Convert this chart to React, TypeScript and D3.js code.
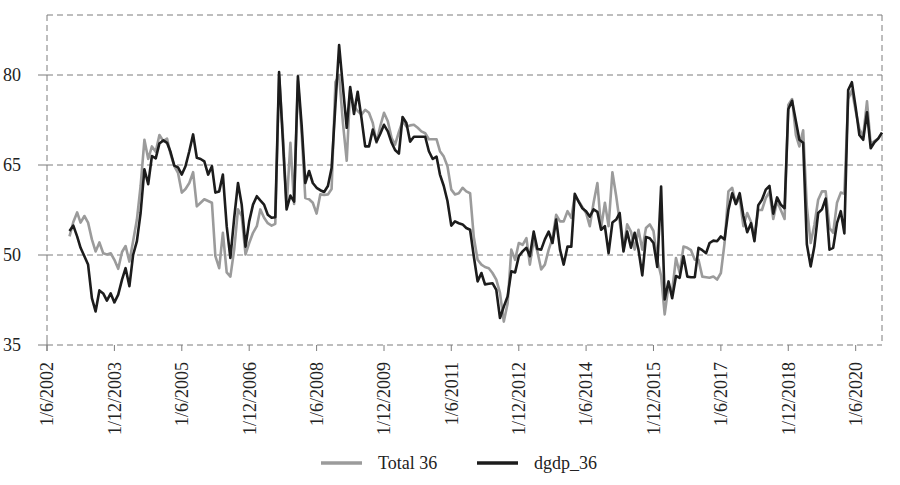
import * as d3 from "d3";

// monthly series, first point = December 2002
const firstMonth = "1/12/2002";

const dgdp36 = [
  54.0, 54.9, 53.1, 51.2, 49.8, 48.4, 42.8, 40.6, 44.1, 43.6,
  42.4, 43.6, 42.1, 43.4, 45.9, 47.8, 44.8, 50.0, 52.3, 57.0,
  64.3, 61.8, 66.5, 66.1, 68.6, 69.1, 68.7, 67.2, 64.9, 64.6,
  63.4, 64.8, 67.3, 70.1, 66.2, 66.0, 65.6, 63.4, 64.8, 60.4,
  60.6, 63.4, 54.8, 49.5, 56.2, 62.0, 58.4, 51.4, 55.6, 58.4,
  59.8, 59.1, 58.4, 56.7, 56.2, 56.3, 80.5, 69.0, 57.6, 59.9,
  58.9, 79.8, 71.5, 62.0, 64.0, 62.0, 61.2, 60.8, 60.5, 61.5,
  64.5, 75.0, 85.0, 78.0, 71.2, 78.0, 73.5, 77.2, 72.8, 68.1,
  68.1, 70.9, 68.9, 70.2, 71.7, 70.6, 68.7, 67.5, 66.9, 73.0,
  72.0, 68.9, 69.7, 69.7, 69.7, 69.7, 67.3, 66.0, 66.4, 63.4,
  61.5, 59.0, 54.9, 55.6, 55.3, 55.1, 54.5, 54.2, 49.8, 45.6,
  47.0, 45.1, 45.2, 45.3, 44.2, 39.5, 41.4, 43.1, 47.3, 47.1,
  49.8, 50.6, 51.2, 49.8, 53.9, 51.0, 50.9, 52.6, 53.9, 52.0,
  55.9, 50.9, 48.4, 51.4, 51.4, 60.2, 58.9, 57.8, 57.3, 56.4,
  57.6, 57.2, 54.2, 54.8, 50.3, 55.4, 55.9, 57.0, 50.6, 53.9,
  51.2, 53.7, 50.9, 46.6, 53.0, 52.8, 52.0, 48.0, 61.4, 42.6,
  45.6, 42.8, 46.5, 46.2, 49.8, 46.4, 46.3, 46.3, 51.2, 50.8,
  50.3, 52.0, 52.4, 52.3, 53.1, 52.6, 57.5, 60.3, 58.5, 60.3,
  56.5, 53.8, 55.3, 52.3, 58.3, 59.2, 60.9, 61.5, 56.9, 59.6,
  58.4, 57.8, 74.3, 75.7, 72.3, 69.2, 68.7, 51.8, 48.1, 51.4,
  57.0, 57.6, 59.4, 50.9, 51.2, 55.3, 57.3, 53.6, 77.5, 78.8,
  74.6, 70.0, 69.2, 73.8, 67.8, 68.8, 69.4, 70.4,
];

const total36 = [
  53.1, 55.5, 57.1, 55.4, 56.5, 55.4, 52.6, 50.6, 52.1, 50.3,
  50.1, 50.3, 49.2, 47.7, 50.5, 51.5, 48.9, 52.3, 55.9, 61.5,
  69.2, 66.0, 68.1, 67.2, 70.0, 69.0, 69.4, 66.9, 64.8, 63.7,
  60.4, 61.0, 62.0, 63.8, 58.1, 58.7, 59.3, 59.0, 58.7, 49.8,
  47.8, 53.7, 47.1, 46.4, 50.9, 57.6, 56.5, 50.1, 52.0, 53.7,
  54.8, 57.6, 56.2, 55.3, 54.9, 55.2, 80.0, 70.0, 58.0, 68.7,
  58.5, 79.0, 70.0, 59.5, 59.3, 58.7, 56.9, 60.1, 60.0, 60.1,
  61.0, 78.8, 80.0, 72.0, 65.7, 77.5, 74.8, 74.0, 73.4, 74.2,
  73.7, 72.0, 68.7, 71.5, 73.7, 72.3, 69.5, 68.4, 70.5, 72.3,
  71.4, 71.6, 71.7, 71.2, 70.6, 70.3, 69.3, 69.3, 69.3, 67.3,
  66.4, 64.8, 60.9, 60.1, 60.3, 61.2, 60.6, 60.3, 53.0, 49.2,
  48.4, 48.0, 47.8, 47.0, 45.9, 43.7, 38.9, 41.9, 50.9, 49.2,
  52.0, 51.7, 52.8, 48.4, 52.5, 50.6, 47.6, 48.4, 50.9, 52.8,
  56.7, 55.6, 55.6, 57.3, 56.2, 59.8, 59.0, 58.0, 57.0, 54.8,
  58.7, 62.0, 54.5, 58.7, 54.8, 63.8, 59.8, 55.6, 50.9, 55.1,
  53.9, 50.9, 54.2, 50.9, 54.5, 55.1, 54.0, 49.2, 46.5, 40.1,
  44.8, 44.0, 49.5, 47.0, 51.4, 51.2, 50.8, 49.2, 49.2, 46.4,
  46.3, 46.2, 46.4, 45.9, 47.0, 52.0, 60.6, 61.2, 58.5, 59.5,
  54.8, 57.0, 55.5, 53.0, 57.5, 57.5, 59.5, 60.5, 56.0, 59.0,
  57.5, 56.0, 75.0, 76.0, 70.0, 68.1, 70.8, 58.0, 52.0, 55.0,
  59.2, 60.6, 60.6, 54.5, 53.7, 58.7, 60.4, 60.2, 76.0, 77.5,
  74.0, 71.0, 69.8, 75.6, 68.5, 69.0, 69.4, 70.4,
];

const xTickLabels = [
  "1/6/2002", "1/12/2003", "1/6/2005", "1/12/2006", "1/6/2008",
  "1/12/2009", "1/6/2011", "1/12/2012", "1/6/2014", "1/12/2015",
  "1/6/2017", "1/12/2018", "1/6/2020",
];
const xDomainLabels = ["1/6/2002", "1/1/2021"];
const yTicks = [35, 50, 65, 80];
const yDomain = [35, 90];

const seriesNames = ["Total 36", "dgdp_36"];
const seriesColors = ["#9b9b9b", "#1c1c1c"];

const W = 900;
const H = 485;
const GRID = "#7d7d7d";
const textStyle = {
  fontFamily: '"Liberation Serif", "DejaVu Serif", serif',
  fontSize: "18px",
  fill: "#222",
};

export default function App() {
  const parse = d3.timeParse("%d/%m/%Y");
  const start = parse(firstMonth)!;
  const months = dgdp36.map((_, i) => d3.timeMonth.offset(start, i));

  const left = 47, right = 882, top = 15, bottom = 345;

  const x = d3
    .scaleTime()
    .domain(xDomainLabels.map((s) => parse(s)!))
    .range([left, right]);
  const y = d3.scaleLinear().domain(yDomain).range([bottom, top]);

  const line = d3
    .line<number>()
    .x((_, i) => x(months[i]))
    .y((d) => y(d));

  const series = [total36, dgdp36];

  return (
    <div style={{ position: "absolute", left: 0, top: 0 }}>
      <svg width={W} height={H} style={{ display: "block", background: "#fff" }}>
        {/* grid + frame */}
        {yTicks.concat([yDomain[1]]).map((t) => (
          <line
            key={"g" + t}
            x1={left}
            x2={right}
            y1={y(t)}
            y2={y(t)}
            stroke={GRID}
            strokeWidth={1}
            strokeDasharray="6,4"
          />
        ))}
        {[left, right].map((px) => (
          <line
            key={"v" + px}
            x1={px}
            x2={px}
            y1={top}
            y2={bottom}
            stroke={GRID}
            strokeWidth={1}
            strokeDasharray="6,4"
          />
        ))}

        {/* y axis */}
        {yTicks.map((t) => (
          <g key={"y" + t}>
            <line x1={left - 9} x2={left} y1={y(t)} y2={y(t)} stroke={GRID} />
            <text x={21} y={y(t)} dy="0.35em" textAnchor="end" style={textStyle}>
              {t}
            </text>
          </g>
        ))}
        <line x1={left} x2={left} y1={bottom - 4} y2={bottom + 6} stroke={GRID} />

        {/* x axis */}
        {xTickLabels.map((lab) => {
          const px = x(parse(lab)!);
          return (
            <g key={lab}>
              <line x1={px} x2={px} y1={bottom} y2={bottom + 6} stroke={GRID} />
              <text
                transform={`translate(${px},${bottom + 17}) rotate(-90)`}
                dy="0.35em"
                textAnchor="end"
                style={textStyle}
              >
                {lab}
              </text>
            </g>
          );
        })}

        {/* series */}
        {series.map((s, k) => (
          <path
            key={seriesNames[k]}
            d={line(s) || ""}
            fill="none"
            stroke={seriesColors[k]}
            strokeWidth={2.6}
            strokeLinejoin="round"
          />
        ))}

        {/* legend */}
        {seriesNames.map((name, k) => {
          const lx = k === 0 ? 321 : 477;
          return (
            <g key={"leg" + name}>
              <line
                x1={lx}
                x2={lx + 41}
                y1={463}
                y2={463}
                stroke={seriesColors[k]}
                strokeWidth={3.5}
              />
              <text x={lx + 57} y={469} style={textStyle}>
                {name}
              </text>
            </g>
          );
        })}
      </svg>
    </div>
  );
}
